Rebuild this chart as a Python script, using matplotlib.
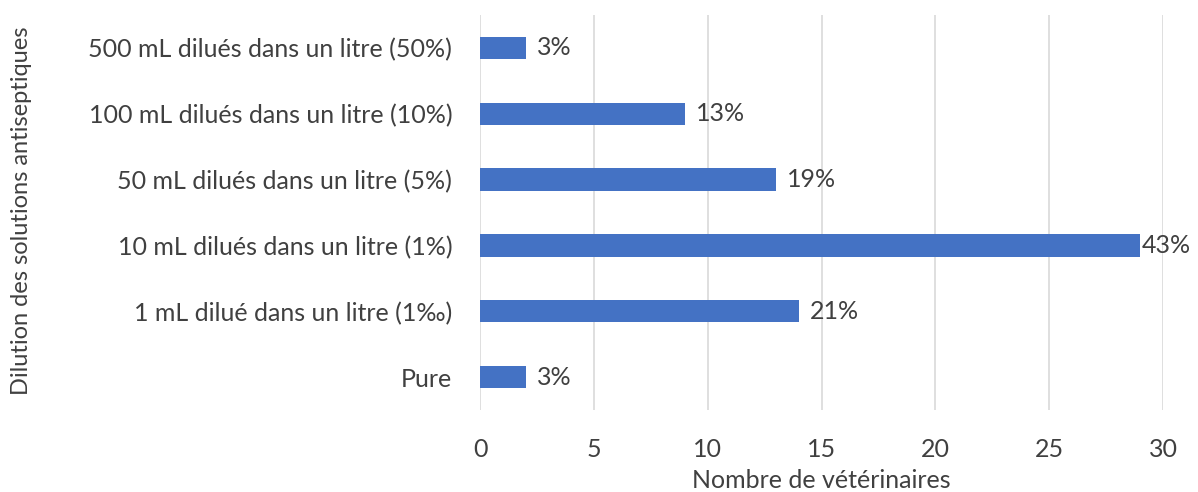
import matplotlib.pyplot as plt

# categories from bottom to top
categories = ["Pure",
              "1 mL dilué dans un litre (1‰)",
              "10 mL dilués dans un litre (1%)",
              "50 mL dilués dans un litre (5%)",
              "100 mL dilués dans un litre (10%)",
              "500 mL dilués dans un litre (50%)"]
counts = [2, 14, 29, 13, 9, 2]
pct_labels = ["3%", "21%", "43%", "19%", "13%", "3%"]
xticks = [0, 5, 10, 15, 20, 25, 30]

plt.rcParams['font.family'] = ['Lato', 'DejaVu Sans']
txt = "#404040"
fs = 18

fig = plt.figure(figsize=(11.98, 4.92), dpi=100)
ax = fig.add_axes([0.4007, 0.1667, 0.5701, 0.8028])

ypos = list(range(len(categories)))
bars = ax.barh(ypos, counts, height=0.34, color="#4472C4", zorder=3)

for y, v, lab in zip(ypos, counts, pct_labels):
    # the longest bar sits near the edge, so its label hugs the bar
    off = 1 if v == max(counts) else 8
    ax.annotate(lab, (v, y), xytext=(off, 0), textcoords="offset points",
                va="center", ha="left", fontsize=fs, color=txt, zorder=4,
                annotation_clip=False)

ax.set_xlim(0, 30)
ax.set_ylim(-0.5, 5.5)
ax.set_xticks(xticks)
ax.set_yticks(ypos)
ax.set_yticklabels(categories)
ax.tick_params(axis="x", labelsize=fs, colors=txt, length=0, pad=20)
ax.tick_params(axis="y", labelsize=fs, colors=txt, length=0, pad=20)
ax.xaxis.grid(True, color="#D9D9D9", linewidth=1.2, zorder=0)
for s in ax.spines.values():
    s.set_visible(False)

ax.set_xlabel("Nombre de vétérinaires", fontsize=fs, color=txt, labelpad=6)
fig.text(0.018, 0.572, "Dilution des solutions antiseptiques", rotation=90,
         va="center", ha="center", fontsize=17, color=txt)

fig.savefig("out.png", dpi=100)
